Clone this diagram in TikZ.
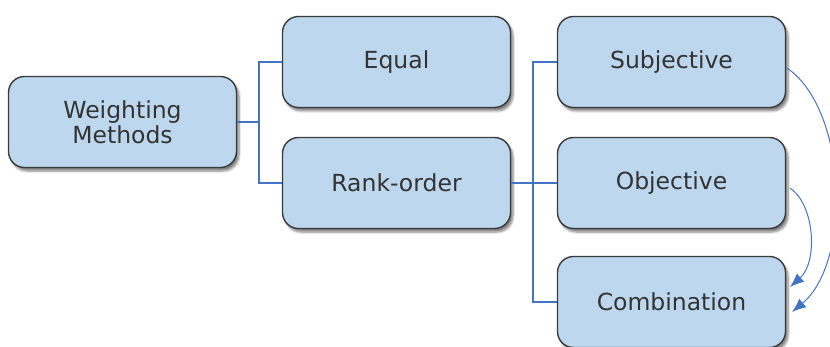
\documentclass[tikz,border=0pt]{standalone}
\usepackage{fontspec}
\setmainfont{DejaVu Sans}
\usetikzlibrary{arrows.meta,shadows.blur}
\definecolor{boxfill}{HTML}{BDD7EE}
\definecolor{boxline}{HTML}{3A3A3A}
\definecolor{linkblue}{HTML}{4472C4}
\definecolor{txt}{HTML}{333333}
\begin{document}
\begin{tikzpicture}[x=1pt,y=-1pt,
  box/.style={draw=boxline,line width=1.4pt,fill=boxfill,rounded corners=16pt,
    minimum width=228pt,minimum height=91pt,inner sep=0pt,align=center,
    text=txt,font=\fontsize{23.5}{25}\selectfont,
    blur shadow={shadow xshift=2.5pt,shadow yshift=-3.5pt,shadow blur steps=6,shadow opacity=50}},
  link/.style={draw=linkblue,line width=1.6pt},
  curve/.style={draw=linkblue,line width=1pt,-{Latex[length=14pt,width=11pt]}}]
\useasboundingbox (0,0) rectangle (830,347);

\node[box] (wm)   at (122.5,122) {Weighting\\Methods};
\node[box] (eq)   at (396.5,62)  {Equal};
\node[box] (ro)   at (396.5,183) {Rank-order};
\node[box] (sub)  at (671.5,62)  {Subjective};
\node[box] (obj)  at (671.5,183) {Objective};
\node[box] (comb) at (671.5,302) {Combination};

% tree connectors
\coordinate (j1) at (259,122);
\coordinate (j2) at (533,183);
\draw[link] (wm.east) -- (j1) |- (eq.west);
\draw[link] (j1) |- (ro.west);
\draw[link] (ro.east) -- (obj.west);
\draw[link] (j2) |- (sub.west);
\draw[link] (j2) |- (comb.west);

% curved arrows into Combination
\coordinate (s1) at (787,68);
\coordinate (s2) at (792,312);
\coordinate (o1) at (790,188);
\coordinate (o2) at (790,287);
\draw[curve] (s1) .. controls (848,110) and (852,262) .. (s2);
\draw[curve] (o1) .. controls (815,205) and (818,262) .. (o2);
\end{tikzpicture}
\end{document}
